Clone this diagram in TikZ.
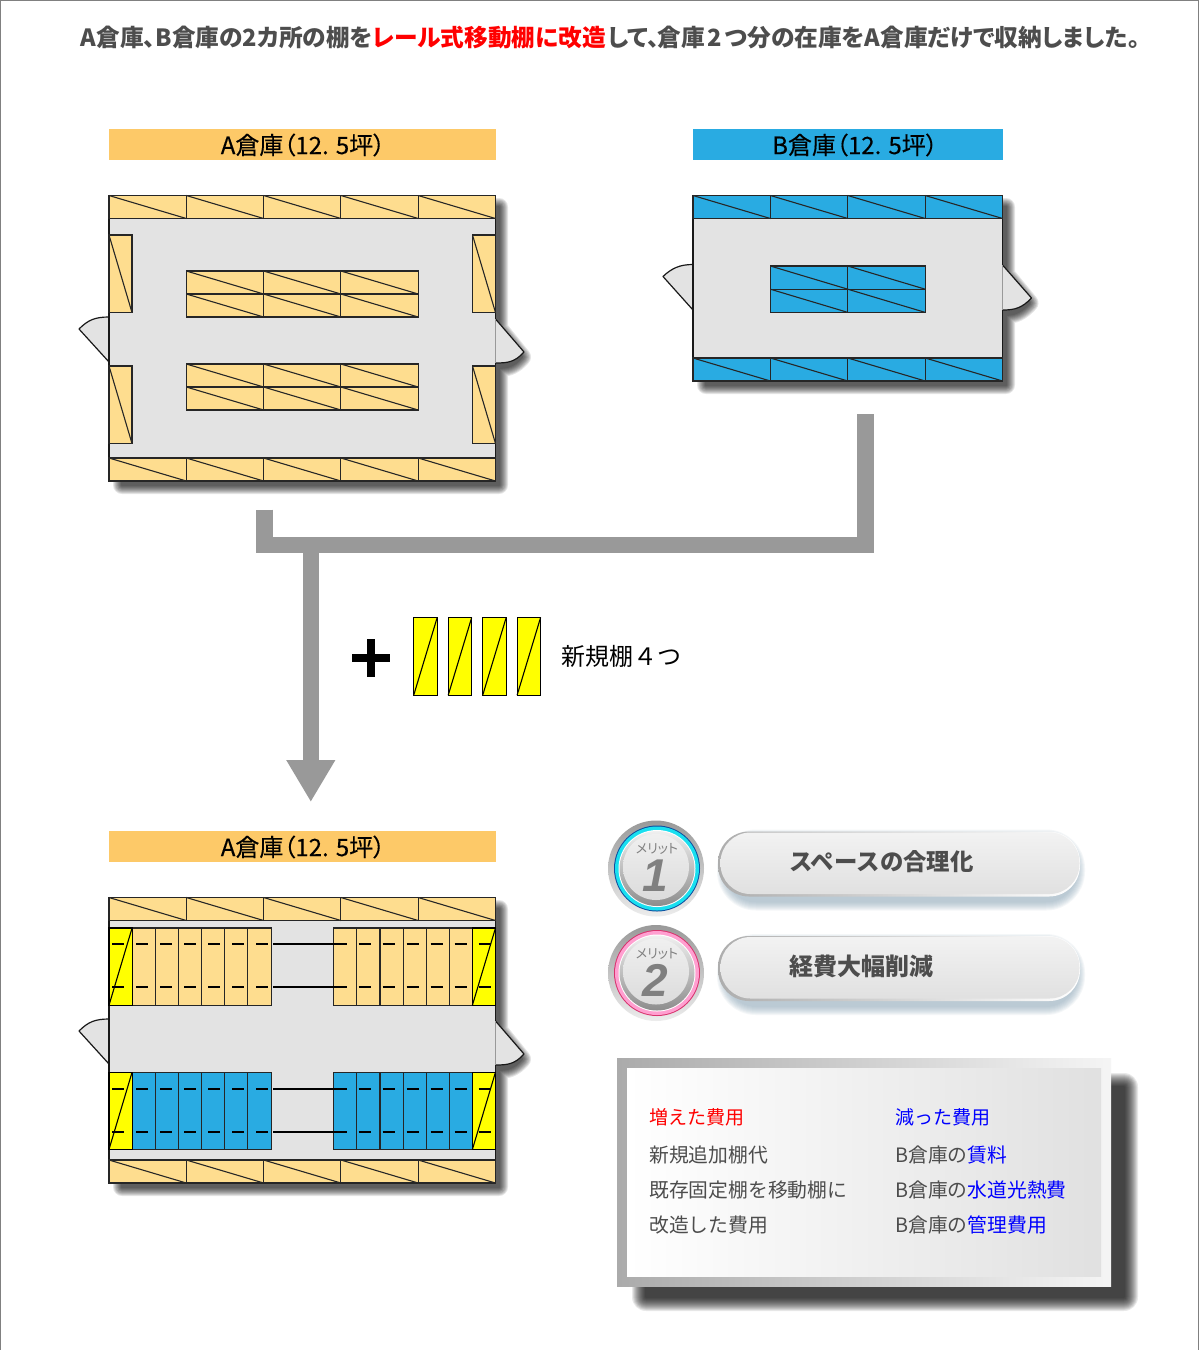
\documentclass[tikz,border=0pt]{standalone}
\usepackage{fontspec}
\setmainfont{Noto Sans CJK JP}
\newfontfamily\paltfont[RawFeature={+palt}]{Noto Sans CJK JP}
\newfontfamily\headfont[RawFeature={+palt},FakeBold=0.3]{Noto Sans CJK JP}
\newfontfamily\numfont{Liberation Sans}
\usepackage{tikz}
\usetikzlibrary{arrows.meta}
\usetikzlibrary{calc}
\definecolor{headA}{HTML}{FDC968}
\definecolor{headB}{HTML}{29ABE2}
\definecolor{shelfA}{HTML}{FEDD8F}
\definecolor{shelfNew}{HTML}{FFFF00}
\definecolor{floorgray}{HTML}{E3E3E3}
\definecolor{pipegray}{HTML}{999999}
\definecolor{textgray}{HTML}{4D4D4D}
\definecolor{coolblue}{HTML}{0000FF}
\definecolor{pillshade}{HTML}{8FA9BA}
\tikzset{
  shelfa/.style={draw=black!85, line width=1.1pt, fill=shelfA},
  shelfb/.style={draw=black!85, line width=1.1pt, fill=headB},
  shelfn/.style={draw=black, line width=1.1pt, fill=shelfNew},
  floorbox/.style={draw=black!90, line width=1.2pt, fill=floorgray},
  doorbox/.style={draw=black!90, line width=1.2pt, line join=round},
  pipe/.style={draw=pipegray, line width=16.4pt},
  headbar/.style={inner sep=0pt, font=\headfont\fontsize{24}{24}\selectfont, text=black},
  costtext/.style={anchor=west, inner sep=0pt, text=textgray, font=\fontsize{19.8}{20}\selectfont},
  costhead/.style={anchor=west, inner sep=0pt, font=\fontsize{19}{20}\selectfont},
  pilltext/.style={anchor=west, inner sep=0pt, text=textgray, font=\bfseries},
  dashmark/.style={draw=black, line width=1.5pt},
}
% soft shadow: #1 colour, #2 opacity, #3 shift, #4 radius, #5 path
\newcommand{\softshadow}[5]{%
  \foreach \w in {1,...,#4} {
    \begin{scope}[opacity=#2, transparency group]
      \filldraw[#1, shift={#3}, line width=2*\w pt, line join=round] #5;
    \end{scope}
  }
}
% floor, wall shelves and doors of the 12.5 tsubo store A
\newcommand{\roomA}{%
  \softshadow{black}{0.1}{(0,0)}{9}{(122,207) rectangle (499,485) (497,326) -- (522,357) .. controls (514,366) and (508,368) .. (497,368) -- cycle}
  \fill[floorgray] (109,317) .. controls (95,317) and (88,320) .. (79,329) -- (109,362) -- cycle;
  \draw[doorbox] (109,317) .. controls (95,317) and (88,320) .. (79,329) -- (109,362);
  \fill[floorgray] (495.5,319) -- (524,352) .. controls (515,362) and (508,363) .. (495.5,363) -- cycle;
  \draw[doorbox] (495.5,319) -- (524,352) .. controls (515,362) and (508,363) .. (495.5,363);
  \draw[floorbox] (109,195.5) rectangle (495.5,481);
  \draw[black!40, line width=1.3pt] (495.5,319) -- (495.5,363);
  \foreach \x in {109,186.3,263.6,340.9,418.2} {
    \draw[shelfa] (\x,195.5) rectangle +(77.3,23);
    \draw[shelfa] (\x,195.5) -- +(77.3,23);
    \draw[shelfa] (\x,458) rectangle +(77.3,23);
    \draw[shelfa] (\x,458) -- +(77.3,23);
  }
}
\begin{document}
\begin{tikzpicture}[x=1pt,y=-1pt]
  \useasboundingbox (0,0) rectangle (1200,1350);
  \fill[white] (0,0) rectangle (1200,1350);
  % Frame of the page, open at the bottom
  \draw[black!50, line width=1.4pt] (0.5,1350) -- (0.5,0.5) -- (1198.5,0.5) -- (1198.5,1350);
  % Title
  \node[anchor=west, inner sep=0pt, text=textgray] (title) at (80.5,38)
    {\paltfont\bfseries\fontsize{23.7}{24}\selectfont A倉庫、B倉庫の2カ所の棚を{\color{red}レール式移動棚に改造}\kern2pt して、\kern-2pt 倉庫\kern3pt 2\kern3pt つ分の在庫をA倉庫だけで収納しました。};
  % Store A
  \fill[headA] (109,129) rectangle (495.5,160);
  \node[headbar] (headA) at (303,145) {A倉庫（12. 5坪）};
  \roomA
  \foreach \y in {235,366} {
    \foreach \x in {109,472.5} {
      \draw[shelfa] (\x,\y) rectangle +(23,77.5);
      \draw[shelfa] (\x,\y) -- +(23,77.5);
    }
  }
  \foreach \y in {271,294,364,387} {
    \foreach \x in {186.3,263.6,340.9} {
      \draw[shelfa] (\x,\y) rectangle +(77.3,23);
      \draw[shelfa] (\x,\y) -- +(77.3,23);
    }
  }
  % Store B
  \fill[headB] (693,129) rectangle (1002.5,160);
  \node[headbar] (headB) at (855,145) {B倉庫（12. 5坪）};
  \softshadow{black}{0.1}{(0,0)}{9}{(706,207) rectangle (1006,385) (1004,272) -- (1029.5,303) .. controls (1021,312) and (1015,315) .. (1004,315) -- cycle}
  \fill[floorgray] (693,264.5) .. controls (680,264.5) and (672,268) .. (663,276.5) -- (693,310) -- cycle;
  \draw[doorbox] (693,264.5) .. controls (680,264.5) and (672,268) .. (663,276.5) -- (693,310);
  \fill[floorgray] (1002.5,265) -- (1031.5,298) .. controls (1022,308) and (1015,310) .. (1002.5,310) -- cycle;
  \draw[doorbox] (1002.5,265) -- (1031.5,298) .. controls (1022,308) and (1015,310) .. (1002.5,310);
  \draw[floorbox] (693,195.5) rectangle (1002.5,381);
  \draw[black!40, line width=1.3pt] (1002.5,265) -- (1002.5,310);
  \foreach \x in {693,770.4,847.8,925.2} {
    \foreach \y in {195.5,358} {
      \draw[shelfb] (\x,\y) rectangle +(77.4,23);
      \draw[shelfb] (\x,\y) -- +(77.4,23);
    }
  }
  \foreach \x in {770.4,847.8} {
    \foreach \y in {266,289.2} {
      \draw[shelfb] (\x,\y) rectangle +(77.4,23.2);
      \draw[shelfb] (\x,\y) -- +(77.4,23.2);
    }
  }
  % Pipes that join both stores
  \coordinate (pipeA) at (264.4,509.5);
  \coordinate (pipeB) at (865.6,414);
  \coordinate (joint) at (310.8,545.2);
  \coordinate (tip) at (310.8,802);
  \draw[pipe] (pipeA) |- (joint) -| (pipeB);
  \draw[pipe, -{Triangle[length=42pt,width=46pt,sep=0pt]}] (joint) -- (tip);
  % New shelves
  \node[inner sep=0pt] (plus) at (371,658) {};
  \draw[black, line width=8.6pt] ($(plus)+(-18.7,0)$) -- ($(plus)+(18.7,0)$);
  \draw[black, line width=8.6pt] ($(plus)+(0,-18.7)$) -- ($(plus)+(0,18.7)$);
  \foreach \x in {413.7,448.2,482.7,517.1} {
    \draw[shelfn] (\x,617.5) rectangle +(23.5,77.7);
    \draw[shelfn] (\x,695.2) -- +(23.5,-77.7);
  }
  \node[anchor=west, inner sep=0pt, font=\fontsize{24}{24}\selectfont] (newshelf) at (561,656) {新規棚４つ};
  % Store A after the change
  \fill[headA] (109,831) rectangle (495.5,862);
  \node[headbar] (headC) at (303,847) {A倉庫（12. 5坪）};
  \begin{scope}[shift={(0,702)}]
    \roomA
  \end{scope}
  \foreach \y/\stylename in {928/shelfa,1072.2/shelfb} {
    \foreach \x in {132.3,155.4,178.6,201.7,224.8,247.9,333.7,356.9,380,403.2,426.3,449.2} {
      \draw[\stylename] (\x,\y) rectangle +(23.15,77.2);
    }
    \foreach \x in {109,472.4} {
      \draw[shelfn] (\x,\y) rectangle +(23.1,77.2);
      \draw[shelfn] (\x,\y+77.2) -- +(23.1,-77.2);
    }
  }
  % Rails over the moving shelves
  \foreach \y in {944,987,1089,1132} {
    \draw[dashmark] (273.3,\y) -- (346.7,\y);
    \foreach \x in {112,136,160,184,208,232,256,358.5,382.5,406.5,430.5,454.5,478.5} {
      \draw[dashmark] (\x,\y) -- +(12,0);
    }
  }
  % Merit badges
  \foreach \cy/\rima/\rimb/\num/\txt/\pillsize/\bname in {868.5/0E4FA0/19DFEF/1/スペースの合理化/23.4/one,973/D8336E/FF9FD0/2/経費大幅削減/24/two} {
    \definecolor{rimA}{HTML}{\rima}
    \definecolor{rimB}{HTML}{\rimb}
    \shade[top color=black!40, bottom color=black!7] (656,\cy) circle (48);
    \fill[rimA] (657,\cy) circle (43);
    \fill[rimB] (657,\cy) circle (42);
    \fill[white] (657,\cy) circle (38.5);
    \shade[top color=black!6, bottom color=black!45] (657,\cy) circle (37.5);
    \shade[top color=black!6, bottom color=black!14] (656,\cy-1.5) circle (33);
    \node[inner sep=0pt, text=black!50, font=\paltfont\fontsize{13}{13}\selectfont] (tag\bname) at (657,\cy-19.5) {メリット};
    \node[inner sep=0pt, text=black!50, font=\numfont\bfseries\itshape\fontsize{46}{46}\selectfont] (num\bname) at (655,\cy+7) {\num};
    % Pill with its shadow
    \softshadow{pillshade}{0.09}{(4,\cy-862)}{9}{[rounded corners=30] (722,832) rectangle (1072,895)}
    \shade[rounded corners=31, left color=black!32, right color=white] (718,\cy-37) rectangle (1080,\cy+28);
    \shade[rounded corners=30, top color=black!5, bottom color=black!12] (720.5,\cy-36) rectangle (1079.5,\cy+25.5);
    \node[pilltext, font=\bfseries\fontsize{\pillsize}{24}\selectfont] (pill\bname) at (789,\cy-7) {\txt};
  }
  % Costs box
  \softshadow{black}{0.085}{(0,0)}{14}{(646,1087) rectangle (1124,1297)}
  \shade[left color=black!33, middle color=black!28, right color=black!4] (617,1058) rectangle (1111,1286);
  \shade[left color=white, right color=black!12] (627,1068) rectangle (1101,1276);
  \node[costhead, text=red] (addhead) at (649,1117) {増えた費用};
  \node[costtext] (addone) at (649,1155) {新規追加棚代};
  \node[costtext] (addtwo) at (649,1190) {既存固定棚を移動棚に};
  \node[costtext] (addthree) at (649,1225) {改造した費用};
  \node[costhead, text=coolblue] (cuthead) at (895,1117) {減った費用};
  \node[costtext] (cutone) at (895,1154.7) {B倉庫の{\color{coolblue}賃料}};
  \node[costtext] (cuttwo) at (895,1189.7) {B倉庫の{\color{coolblue}水道光熱費}};
  \node[costtext] (cutthree) at (895,1224.7) {B倉庫の{\color{coolblue}管理費用}};
\end{tikzpicture}
\end{document}
